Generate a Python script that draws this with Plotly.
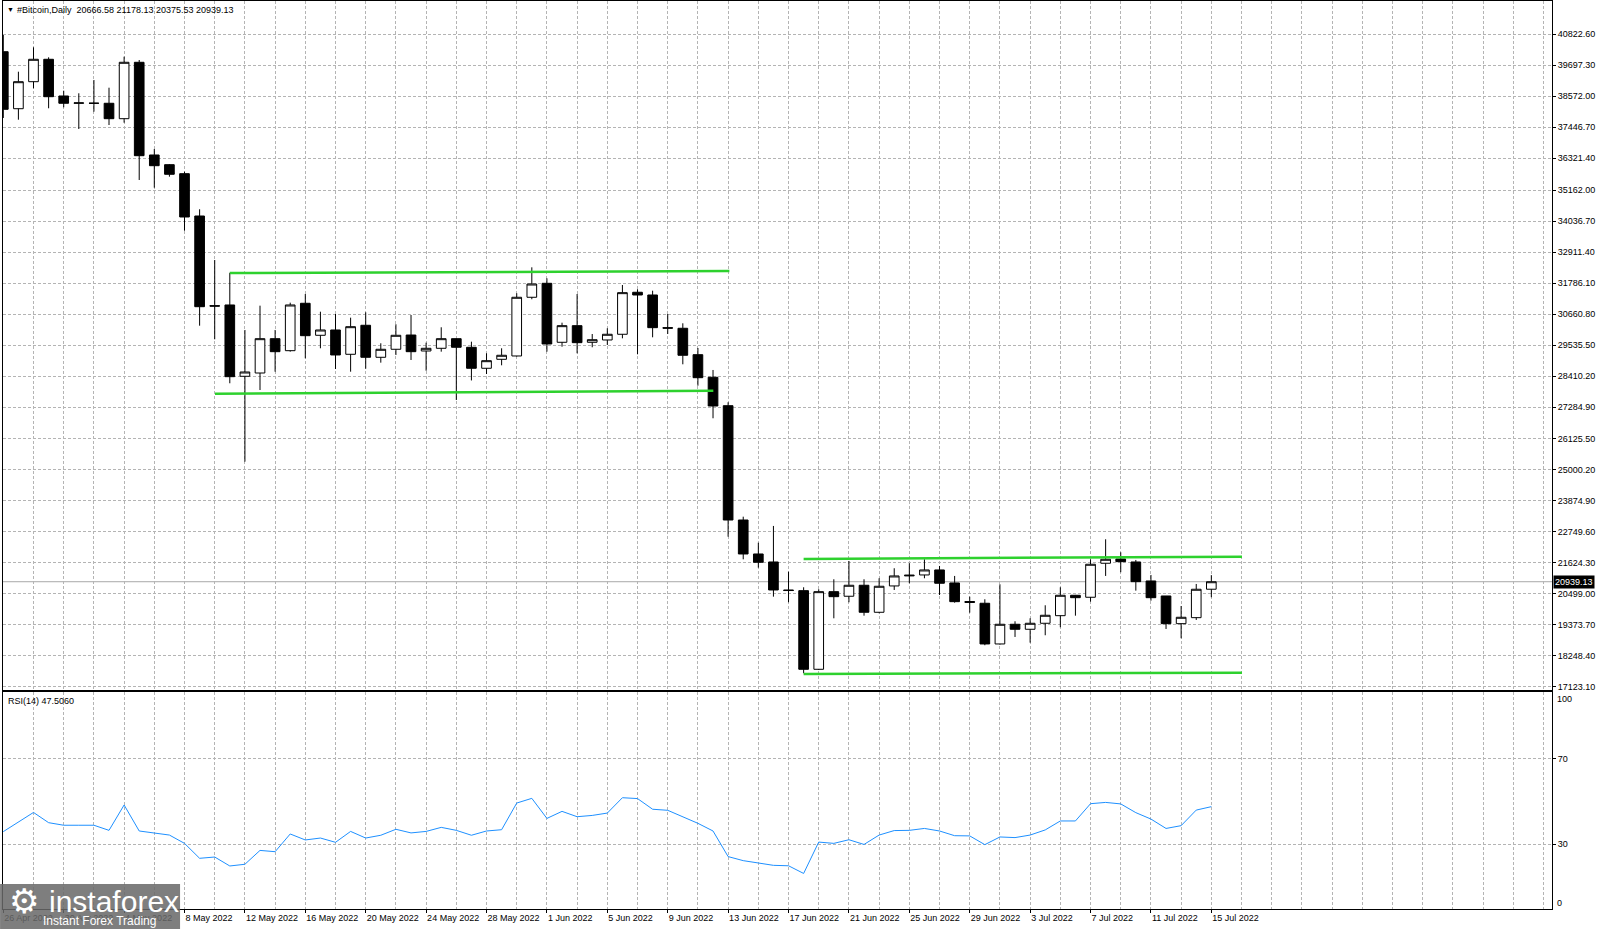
import pandas as pd
import plotly.graph_objects as go
from plotly.subplots import make_subplots

# ---------------- data ----------------
start_date = "2022-04-26"
n_days = 81
dates = pd.date_range(start_date, periods=n_days, freq="D")

opens = [40190, 38120, 39101, 39915, 38582, 38317, 38320, 38317, 37757, 39806,
         36439, 36087, 35760, 34223, 30966, 30991, 28401, 28520, 29767, 29331,
         31053, 29890, 30083, 29200, 30254, 29091, 29382, 29900, 29320, 29418,
         29767, 29455, 28692, 29018, 29139, 31271, 31778, 29636, 30240, 29636,
         29720, 29927, 31453, 31354, 30167, 30145, 29186, 28365, 27333, 23181,
         21947, 21657, 20640, 20615, 17759, 20578, 20412, 20811, 19830, 20786,
         21150, 21185, 21367, 20895, 20220, 20157, 18679, 19394, 19212, 19430,
         19706, 20447, 20375, 21610, 21766, 21657, 20967, 20422, 19416, 19634,
         20666.58]
highs = [40797, 39464, 40350, 39987, 38774, 38680, 39163, 38883, 40009, 39889,
         36657, 36110, 35832, 34467, 32625, 32160, 30083, 30966, 30083, 31075,
         31390, 30747, 30663, 30530, 30725, 29600, 30290, 30627, 29622, 30181,
         29780, 29658, 29237, 29418, 31417, 32359, 31960, 30348, 31390, 29937,
         30145, 31717, 31561, 31510, 30663, 30326, 29428, 28630, 27457, 23302,
         22357, 22965, 21304, 20738, 20666, 21028, 21693, 21028, 21065, 21429,
         21610, 21755, 21512, 21149, 20397, 20302, 20847, 19503, 19612, 20084,
         20738, 20460, 21755, 22481, 22009, 21730, 21185, 20422, 20058, 20858,
         21178.13]
lows = [37783, 37721, 38862, 38135, 38171, 37383, 38012, 37528, 37612, 35531,
        35251, 35651, 33689, 30239, 29745, 28147, 25300, 27903, 28568, 29295,
        29055, 29418, 28666, 28568, 28677, 28896, 29175, 28993, 28604, 29295,
        27540, 28250, 28484, 28800, 29120, 31199, 29295, 29476, 29237, 29455,
        29538, 29780, 29200, 29817, 29937, 28836, 28060, 26876, 22575, 21754,
        21450, 20397, 20193, 17614, 17734, 19611, 20193, 19706, 19794, 20640,
        20884, 21065, 20458, 20179, 19815, 18632, 18655, 18933, 18726, 18995,
        19285, 19706, 20215, 21149, 21283, 20615, 20251, 19223, 18886, 19550,
        20375.53]
closes = [38098, 39101, 39915, 38556, 38317, 38330, 38317, 37757, 39806, 36413,
          36050, 35738, 34187, 30929, 30950, 28387, 28557, 29767, 29295, 30991,
          29876, 30083, 29175, 30203, 29091, 29382, 29890, 29295, 29418, 29767,
          29455, 28692, 28968, 29164, 31271, 31753, 29574, 30240, 29622, 29730,
          29927, 31439, 31354, 30167, 30150, 29164, 28350, 27322, 23181, 21947,
          21646, 20640, 20620, 17759, 20578, 20397, 20811, 19830, 20775, 21149,
          21175, 21367, 20884, 20215, 20190, 18679, 19394, 19212, 19430, 19721,
          20447, 20360, 21574, 21755, 21668, 20942, 20360, 19416, 19648, 20666,
          20939.13]
rsi_values = [35.8, 40.5, 44.8, 40.0, 38.8, 38.8, 38.8, 36.4, 48.3, 36.1,
              35.3, 34.2, 30.3, 23.3, 23.9, 19.7, 20.5, 27.0, 26.4, 34.7,
              31.9, 32.8, 30.8, 35.9, 32.8, 34.1, 36.9, 35.2, 35.9, 37.8,
              36.4, 34.1, 36.1, 36.7, 49.2, 51.4, 42.0, 45.3, 42.8, 43.4,
              44.5, 51.7, 51.3, 46.3, 45.8, 42.8, 39.7, 36.1, 24.1, 22.2,
              21.1, 20.0, 19.8, 16.2, 30.9, 30.3, 32.0, 29.8, 34.2, 36.3,
              36.4, 37.3, 36.1, 33.9, 33.8, 29.7, 33.3, 33.0, 34.2, 36.6,
              40.8, 40.8, 48.9, 49.5, 48.8, 44.7, 41.7, 37.3, 38.6, 45.9,
              47.506]

price_ticks = [40822.60, 39697.30, 38572.00, 37446.70, 36321.40, 35162.00,
               34036.70, 32911.40, 31786.10, 30660.80, 29535.50, 28410.20,
               27284.90, 26125.50, 25000.20, 23874.90, 22749.60, 21624.30,
               20499.00, 19373.70, 18248.40, 17123.10]
rsi_ticks = [70, 30]
last_price = 20939.13
header_text = "#Bitcoin,Daily  20666.58 21178.13 20375.53 20939.13"
rsi_text = "RSI(14) 47.5060"

# channel (trend) lines drawn on the chart
upper1_x = ["2022-05-11 00:00", "2022-06-13 02:00"]
upper1_y = [32150, 32226]
lower1_x = ["2022-05-10 00:30", "2022-06-12 00:30"]
lower1_y = [27770, 27878]
upper2_x = ["2022-06-18 00:00", "2022-07-17 00:45"]
upper2_y = [21765, 21849]
lower2_x = ["2022-06-18 00:00", "2022-07-17 00:45"]
lower2_y = [17589, 17636]

# ---------------- figure ----------------
GRID = "#b4b4b4"
DASH = "3px,2px"
GREEN = "#2ed12e"

fig = make_subplots(rows=2, cols=1, shared_xaxes=True)

fig.add_trace(go.Candlestick(
    x=dates, open=opens, high=highs, low=lows, close=closes,
    increasing=dict(line=dict(color="black", width=1), fillcolor="white"),
    decreasing=dict(line=dict(color="black", width=1), fillcolor="black"),
    whiskerwidth=0, hoverinfo="skip", showlegend=False), row=1, col=1)

for xs, ys in [(upper1_x, upper1_y), (lower1_x, lower1_y),
               (upper2_x, upper2_y), (lower2_x, lower2_y)]:
    fig.add_trace(go.Scatter(x=xs, y=ys, mode="lines",
                             line=dict(color=GREEN, width=2.5),
                             hoverinfo="skip", showlegend=False), row=1, col=1)

fig.add_trace(go.Scatter(x=dates, y=rsi_values, mode="lines",
                         line=dict(color="#1e90ff", width=1),
                         hoverinfo="skip", showlegend=False), row=2, col=1)

label_dates = dates[::4]
label_text = [f"{d.day} {d.strftime('%b %Y')}" for d in label_dates]

minor_grid = dict(tickmode="linear", tick0=start_date, dtick=2 * 86400000,
                  showgrid=True, gridcolor=GRID, griddash=DASH, gridwidth=1,
                  ticks="")

common_x = dict(type="date", range=["2022-04-25 23:31", "2022-08-06 13:26"],
                showgrid=False, zeroline=False, showline=True, linecolor="black",
                linewidth=1, mirror=True, tickmode="array",
                tickvals=list(label_dates), ticktext=label_text,
                minor=minor_grid, rangeslider=dict(visible=False),
                automargin=False, tickangle=0)

fig.update_layout(
    xaxis=dict(common_x, showticklabels=False, ticks=""),
    xaxis2=dict(common_x, showticklabels=True, ticks="outside", ticklen=3,
                tickcolor="black", ticklabelposition="outside right",
                tickfont=dict(size=9)),
    yaxis=dict(domain=[0.2412, 1.0], side="right", range=[17007, 42032],
               tickmode="array", tickvals=price_ticks,
               ticktext=[f"{v:.2f}" for v in price_ticks],
               ticks="outside", ticklen=3, tickcolor="black",
               showgrid=True, gridcolor=GRID, griddash=DASH, gridwidth=1,
               zeroline=False, showline=True, linecolor="black", linewidth=1,
               mirror=True, tickfont=dict(size=9), automargin=False),
    yaxis2=dict(domain=[0.0, 0.239], side="right", range=[-0.47, 101.27],
                tickmode="array", tickvals=rsi_ticks,
                ticktext=[str(v) for v in rsi_ticks],
                ticks="outside", ticklen=3, tickcolor="black",
                showgrid=True, gridcolor=GRID, griddash=DASH, gridwidth=1,
                zeroline=False, showline=True, linecolor="black", linewidth=1,
                mirror=True, tickfont=dict(size=9), automargin=False),
    width=1600, height=929,
    margin=dict(l=3, r=48, t=1, b=20, autoexpand=False),
    plot_bgcolor="white", paper_bgcolor="white",
    showlegend=False, boxgap=0.36, boxgroupgap=0,
    font=dict(family="Liberation Sans", size=9, color="black"),
)

# current price line
fig.add_shape(type="line", xref="x domain", x0=0, x1=1, yref="y",
              y0=last_price, y1=last_price,
              line=dict(color="#a8a8a8", width=1), layer="below")

annotations = [
    dict(text="▼", x=0, xref="paper", xanchor="left", xshift=2,
         y=1, yref="paper", yanchor="top", yshift=-3,
         font=dict(size=7, color="black"), showarrow=False),
    dict(text=header_text, x=0, xref="paper", xanchor="left", xshift=12,
         y=1, yref="paper", yanchor="top", yshift=-2,
         font=dict(size=9, color="black"), showarrow=False),
    dict(text=rsi_text, x=0, xref="paper", xanchor="left", xshift=3,
         y=0.239, yref="paper", yanchor="top", yshift=-2,
         font=dict(size=9, color="black"), showarrow=False),
    dict(text=f"{last_price:.2f}", x=1, xref="paper", xanchor="left", xshift=1,
         y=last_price, yref="y", yanchor="middle",
         bgcolor="black", borderpad=1,
         font=dict(size=9, color="white"), showarrow=False),
    dict(text="100", x=1, xref="paper", xanchor="left", xshift=3,
         y=100, yref="y2", yanchor="middle", yshift=-4,
         font=dict(size=9, color="black"), showarrow=False),
    dict(text="0", x=1, xref="paper", xanchor="left", xshift=3,
         y=0, yref="y2", yanchor="middle", yshift=5,
         font=dict(size=9, color="black"), showarrow=False),
    # logo
    dict(text="⚙", x=0.0136, xref="paper", xanchor="center",
         y=0.0083, yref="paper", yanchor="middle",
         font=dict(size=34, color="white", family="DejaVu Sans"), showarrow=False),
    dict(text="instaforex", x=0.0715, xref="paper", xanchor="center",
         y=0.0085, yref="paper", yanchor="middle",
         font=dict(size=30, color="white", family="Liberation Sans"), showarrow=False),
    dict(text="Instant Forex Trading", x=0.0625, xref="paper", xanchor="center",
         y=-0.0135, yref="paper", yanchor="middle",
         font=dict(size=12, color="white", family="Liberation Sans"), showarrow=False),
]
fig.update_layout(annotations=annotations)

fig.add_shape(type="rect", xref="paper", yref="paper",
              x0=-0.0019, x1=0.1143, y0=-0.0221, y1=0.0275,
              fillcolor="rgba(105,105,105,0.86)", line=dict(width=0), layer="above")

fig.write_html("out.html", config={"displayModeBar": False},
               post_script="document.body.style.margin='0';document.body.style.overflow='hidden';")
